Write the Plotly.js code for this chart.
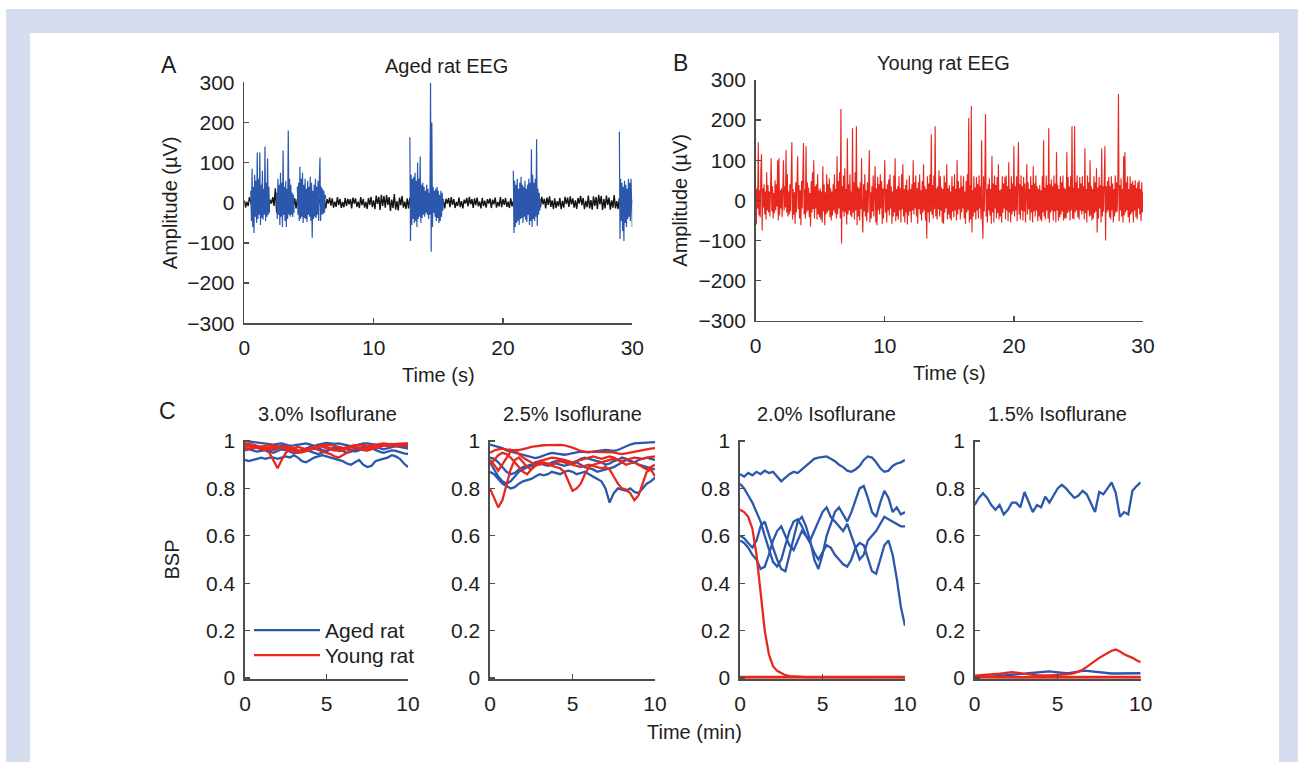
<!DOCTYPE html>
<html><head><meta charset="utf-8">
<script src="https://cdn.plot.ly/plotly-3.0.1.min.js"></script>
<style>html,body{margin:0;padding:0;background:#fff;}#chart{width:1298px;height:762px;}</style>
</head><body><div id="chart"></div>
<script>
// ---------- Panel A: aged rat EEG (µV), baseline sampled every 0.1 s ----------
const agedBaseline = [
6,-12,3,-8,14,2,-10,-4,11,-6,
12,-3,8,-14,5,-7,13,-11,2,-12,
8,-2,14,-8,36,-24,10,-5,7,-11,
13,-9,4,-13,8,1,-10,12,-7,11,
-14,9,-4,15,-9,3,-12,10,-8,13,
7,-13,2,-9,14,-8,6,-12,9,-3,
12,-8,4,-14,9,-2,13,-7,11,-12,
3,-10,14,-6,10,-13,2,-11,12,-8,
10,-4,9,-14,13,-2,11,-10,3,-13,
14,-6,10,-12,2,-15,12,-5,15,-11,
6,-16,18,-3,15,-18,20,-8,17,-12,
19,-5,14,-20,8,-13,22,-17,4,-19,
13,-6,17,-12,3,-15,11,-14,13,-4,
9,-12,2,-8,13,-10,5,-11,12,-3,
10,-13,4,-10,12,-2,14,-11,6,-12,
11,-3,13,-12,5,-14,10,-2,12,-11,
14,-5,9,-13,2,-8,13,-11,4,-14,
8,-2,12,-9,15,-4,9,-13,11,-6,
13,-9,3,-14,12,-8,5,-12,9,-2,
11,-13,8,-4,13,-12,2,-9,14,-11,
9,-5,12,-10,3,-13,11,-9,4,-10,
10,-2,13,-11,6,-12,12,-3,10,-13,
12,-10,2,-13,11,-6,14,-10,5,-11,
15,-4,10,-14,13,-5,16,-10,6,-15,
11,-13,4,-9,12,-16,5,-12,15,-3,
13,-10,16,-4,11,-12,6,-15,12,-2,
17,-6,12,-16,5,-11,18,-14,7,-17,
16,-8,14,-15,20,-4,17,-18,9,-14,
18,-5,13,-17,6,-12,19,-14,4,-16,
12,-14,3,-11,13,-6,9,-10,2,-13,
8];
// burst episodes (sampled every 0.05 s), start times in s
const burst1Start = 0.5;
const burst1 = [
30,-45,85,-60,40,-75,70,-35,55,-50,125,-40,60,-30,125,-55,45,-38,80,-42,
35,-30,140,-45,50,-35,110,-30,40,-25,null,null,null,null,null,null,null,null,null,null,
25,-40,60,-30,45,-55,75,-35,50,-60,130,-30,40,-45,55,-60,35,-40,180,-30,
60,-35,45,-30,25,-35,20,-25,null,null,null,null,40,-30,50,-45,90,-40,60,-35,
75,-50,45,-38,60,-40,35,-48,55,-30,40,-35,65,-45,50,-87,30,-40,45,-35,
60,-38,40,-30,55,-45,50,113,-45,40,-30,35,-28,30,-25,20,10];
const burst2Start = 12.8;
const burst2 = [
163,-95,70,-55,60,-40,65,-50,75,-45,55,-60,100,-40,60,-35,115,-50,45,-38,
50,-30,40,-35,30,-25,45,-30,35,-40,25,-30,298,-122,200,-60,40,-25,30,-35,
35,-45,40,-38,30,-50,20,-45,30,-35,25,-20,10];
const burst3Start = 20.8;
const burst3 = [
80,-75,55,-60,45,-50,60,-45,35,-55,50,-40,65,-38,45,-50,40,-35,55,-42,
35,-48,45,-30,60,-55,50,-45,133,-60,70,-40,50,-45,60,-35,158,-58,35,-30,
25,-20,10];
const burst4Start = 29.0;
const burst4 = [177,-90,60,-45,50,-70,40,-95,55,-50,45,-60,35,-40,60,-35,50,-45,60,-55,-60];

// ---------- Panel B: young rat EEG (µV), sampled every 0.05 s ----------
const youngEEG = [
35,-60,28,-20,145,-38,25,-42,75,115,-75,30,-18,40,-35,22,-48,70,-25,38,
-30,22,-40,60,105,-28,35,-45,18,-32,50,-25,40,-15,100,-50,105,-38,25,-20,
30,-42,50,100,-25,35,-18,125,-30,65,-40,22,-35,40,-28,70,145,-48,28,-36,
20,-58,45,-30,65,110,-22,38,-45,25,-62,48,-20,70,143,-35,28,-45,135,-30,
45,-25,32,-42,18,-65,48,-30,70,-22,100,-45,35,-20,40,-48,65,-35,25,-42,
30,-48,22,-55,85,-28,40,-62,20,-35,65,-30,40,-25,55,-42,30,-50,22,-38,
40,-25,65,-32,28,-45,110,-35,48,-20,70,-45,228,-108,35,-28,62,-40,80,-30,
28,-60,155,-35,40,-25,65,-38,22,-42,180,-30,45,-48,70,-25,185,-62,35,-40,
30,-50,45,-22,105,-35,-80,40,-28,65,-40,25,-52,45,-30,38,125,-55,20,-45,
35,-28,62,-40,25,85,-55,30,-62,58,-25,40,-35,65,-20,48,-58,30,-45,60,
100,-30,28,-55,40,-25,52,-38,65,-20,35,-58,22,-40,62,-30,105,-52,28,-40,
35,-48,60,-25,30,-55,65,-22,90,-40,28,-55,38,-30,52,-60,25,-38,62,-28,
28,-55,40,-25,100,-35,45,-20,62,-40,30,-58,45,-22,65,-35,25,-50,48,-30,
90,-25,35,-50,28,-95,60,-30,42,-55,65,-28,165,-35,38,-45,62,-22,185,-40,
30,-48,35,-22,75,-40,60,-25,32,-55,28,-58,62,-30,45,-20,90,-48,30,-35,
38,-45,22,-50,60,-28,35,-42,65,-25,28,-50,100,-35,48,-22,30,-48,62,-30,
35,-20,60,-45,22,-58,48,-30,65,-25,205,-55,38,-48,235,-80,25,-40,60,-30,
32,-48,58,-25,40,-45,62,-20,35,-48,150,-32,-95,60,-28,45,215,-40,28,-55,
40,-25,55,-38,28,-58,110,-30,42,-55,62,-20,38,-45,58,-32,90,-48,25,-40,
28,-55,60,-30,42,-20,58,-48,62,-25,35,-52,95,-30,28,-55,60,-35,42,-28,
135,-40,35,-25,60,-52,28,145,-35,40,-48,62,-25,35,-50,58,-28,42,-55,30,
90,-35,45,-22,28,-50,60,-30,38,-55,85,-28,42,-40,62,-25,35,-52,28,-40,
38,-48,25,-52,60,-30,150,-40,32,-48,62,-25,38,-45,180,-55,40,-30,52,-25,
35,-50,62,-28,42,-55,120,-25,38,-50,28,-42,60,-35,45,-28,62,-50,32,-45,
28,-45,120,-32,58,-28,35,-50,60,-25,185,-45,32,-48,185,-30,45,-25,62,-42,
30,-48,58,-25,42,-35,60,-28,35,-48,130,-32,28,-55,62,-25,45,-40,100,-38,
35,-50,28,-45,60,-32,45,-28,80,-80,32,-45,58,-20,38,-55,130,-40,35,-28,
42,135,-100,35,-30,48,-25,58,-42,35,-48,60,-25,42,-55,28,-40,62,-30,45,
-28,40,265,-52,38,-25,55,-40,28,-55,110,-38,120,-30,45,-25,60,-42,28,-55,
60,-35,42,-30,48,-55,38,-25,50,-42,30,-48,45,-20,50,-35,28,-52,45,-30,
20];

// ---------- Panel C: BSP, sampled every 0.25 min ----------
const iso30Aged = [
[0.92,0.915,0.92,0.925,0.93,0.925,0.93,0.93,0.925,0.93,0.935,0.93,0.94,0.93,0.915,0.91,0.92,0.93,0.935,0.94,0.935,0.93,0.925,0.92,0.915,0.905,0.9,0.91,0.92,0.9,0.89,0.895,0.915,0.92,0.925,0.93,0.94,0.935,0.925,0.905,0.89],
[1.0,0.998,0.995,0.993,0.99,0.99,0.988,0.985,0.988,0.99,0.985,0.98,0.982,0.985,0.988,0.99,0.985,0.98,0.985,0.99,0.992,0.99,0.988,0.99,0.985,0.98,0.978,0.98,0.985,0.99,0.99,0.988,0.985,0.98,0.982,0.985,0.988,0.985,0.98,0.978,0.975],
[0.97,0.965,0.96,0.955,0.958,0.962,0.955,0.95,0.958,0.965,0.962,0.955,0.948,0.952,0.96,0.962,0.955,0.95,0.945,0.95,0.958,0.965,0.97,0.965,0.958,0.95,0.955,0.962,0.968,0.972,0.975,0.97,0.962,0.955,0.95,0.955,0.96,0.958,0.952,0.948,0.945],
[0.96,0.965,0.97,0.975,0.97,0.965,0.96,0.968,0.975,0.98,0.975,0.968,0.96,0.955,0.962,0.97,0.975,0.978,0.97,0.962,0.958,0.965,0.972,0.975,0.97,0.965,0.96,0.955,0.96,0.968,0.975,0.978,0.975,0.97,0.965,0.97,0.975,0.978,0.975,0.97,0.968]];
const iso30Young = [
[0.985,0.98,0.975,0.97,0.965,0.96,0.95,0.92,0.885,0.92,0.95,0.965,0.97,0.975,0.97,0.965,0.97,0.975,0.978,0.975,0.97,0.965,0.96,0.965,0.97,0.975,0.978,0.98,0.982,0.98,0.978,0.98,0.982,0.985,0.985,0.983,0.985,0.986,0.985,0.985,0.985],
[0.975,0.978,0.98,0.975,0.97,0.968,0.972,0.975,0.978,0.975,0.97,0.962,0.955,0.95,0.952,0.958,0.965,0.968,0.962,0.955,0.95,0.945,0.935,0.93,0.94,0.952,0.962,0.97,0.968,0.965,0.97,0.975,0.978,0.98,0.982,0.98,0.982,0.985,0.984,0.985,0.986],
[0.99,0.988,0.985,0.98,0.975,0.97,0.965,0.962,0.968,0.975,0.978,0.975,0.968,0.96,0.955,0.958,0.965,0.972,0.978,0.98,0.975,0.968,0.962,0.958,0.96,0.968,0.972,0.975,0.97,0.962,0.96,0.965,0.972,0.978,0.98,0.982,0.98,0.978,0.98,0.982,0.98],
[0.965,0.968,0.972,0.975,0.978,0.98,0.982,0.98,0.975,0.97,0.965,0.96,0.955,0.952,0.958,0.965,0.97,0.975,0.978,0.982,0.985,0.983,0.98,0.975,0.97,0.972,0.978,0.982,0.985,0.983,0.98,0.982,0.985,0.988,0.99,0.988,0.985,0.988,0.99,0.99,0.99]];
const iso25Aged = [
[0.985,0.98,0.975,0.97,0.96,0.955,0.95,0.945,0.94,0.935,0.93,0.928,0.932,0.94,0.945,0.95,0.948,0.945,0.942,0.945,0.95,0.952,0.955,0.953,0.952,0.955,0.958,0.96,0.962,0.96,0.958,0.962,0.97,0.978,0.985,0.99,0.992,0.993,0.993,0.994,0.995],
[0.93,0.925,0.91,0.89,0.87,0.86,0.865,0.88,0.89,0.895,0.9,0.91,0.915,0.905,0.9,0.91,0.915,0.92,0.915,0.91,0.905,0.915,0.925,0.93,0.925,0.92,0.915,0.91,0.9,0.905,0.915,0.92,0.93,0.925,0.915,0.91,0.92,0.925,0.93,0.925,0.92],
[0.87,0.86,0.84,0.82,0.81,0.8,0.805,0.82,0.83,0.835,0.84,0.85,0.86,0.855,0.86,0.87,0.865,0.86,0.87,0.875,0.87,0.86,0.865,0.87,0.86,0.85,0.84,0.83,0.8,0.74,0.78,0.8,0.795,0.79,0.8,0.785,0.78,0.8,0.82,0.83,0.845],
[0.91,0.88,0.85,0.83,0.82,0.83,0.85,0.87,0.88,0.89,0.895,0.9,0.905,0.9,0.895,0.9,0.905,0.9,0.895,0.9,0.905,0.91,0.9,0.89,0.885,0.88,0.87,0.875,0.88,0.885,0.89,0.9,0.91,0.92,0.915,0.91,0.9,0.895,0.89,0.885,0.88]];
const iso25Young = [
[0.95,0.96,0.965,0.968,0.965,0.962,0.96,0.962,0.965,0.97,0.975,0.978,0.98,0.982,0.983,0.984,0.985,0.984,0.982,0.978,0.972,0.965,0.958,0.955,0.955,0.953,0.952,0.953,0.955,0.955,0.952,0.948,0.945,0.948,0.952,0.955,0.958,0.962,0.965,0.968,0.97],
[0.8,0.76,0.72,0.75,0.82,0.88,0.92,0.93,0.91,0.89,0.88,0.895,0.905,0.91,0.905,0.9,0.91,0.915,0.91,0.905,0.9,0.895,0.89,0.895,0.9,0.895,0.89,0.885,0.89,0.88,0.85,0.82,0.8,0.795,0.78,0.75,0.77,0.82,0.87,0.88,0.85],
[0.92,0.9,0.875,0.9,0.93,0.955,0.96,0.945,0.93,0.92,0.91,0.9,0.9,0.905,0.9,0.895,0.89,0.885,0.87,0.83,0.79,0.8,0.82,0.86,0.89,0.9,0.905,0.91,0.915,0.92,0.925,0.92,0.915,0.92,0.925,0.93,0.928,0.925,0.93,0.932,0.935],
[0.9,0.92,0.94,0.95,0.945,0.93,0.91,0.89,0.87,0.86,0.88,0.9,0.915,0.92,0.925,0.93,0.928,0.925,0.92,0.915,0.91,0.915,0.92,0.925,0.93,0.935,0.93,0.925,0.93,0.935,0.93,0.92,0.91,0.9,0.905,0.91,0.9,0.89,0.88,0.89,0.9]];
const iso20Aged = [
[0.86,0.85,0.865,0.855,0.87,0.86,0.875,0.865,0.87,0.85,0.83,0.845,0.86,0.87,0.865,0.88,0.895,0.91,0.925,0.93,0.932,0.935,0.925,0.915,0.9,0.89,0.875,0.87,0.88,0.895,0.92,0.935,0.93,0.91,0.885,0.87,0.875,0.895,0.905,0.91,0.92],
[0.82,0.8,0.77,0.74,0.7,0.66,0.6,0.54,0.49,0.47,0.5,0.56,0.62,0.66,0.67,0.64,0.6,0.57,0.53,0.5,0.53,0.56,0.55,0.52,0.5,0.48,0.47,0.5,0.55,0.57,0.56,0.5,0.45,0.44,0.5,0.56,0.58,0.52,0.42,0.3,0.22],
[0.6,0.59,0.57,0.55,0.58,0.64,0.66,0.6,0.55,0.5,0.46,0.45,0.52,0.6,0.66,0.68,0.64,0.58,0.5,0.46,0.52,0.6,0.65,0.7,0.72,0.69,0.66,0.7,0.75,0.8,0.81,0.76,0.7,0.68,0.74,0.79,0.76,0.7,0.72,0.69,0.7],
[0.58,0.57,0.55,0.52,0.5,0.46,0.47,0.52,0.58,0.62,0.64,0.6,0.56,0.54,0.58,0.62,0.6,0.58,0.62,0.66,0.7,0.72,0.68,0.66,0.64,0.62,0.65,0.6,0.55,0.5,0.52,0.58,0.6,0.62,0.65,0.68,0.67,0.66,0.65,0.64,0.64]];
const iso20Young = [
[0.71,0.7,0.68,0.63,0.52,0.36,0.2,0.1,0.05,0.03,0.02,0.012,0.008,0.006,0.005,0.005,0.004,0.004,0.004,0.004,0.004,0.004,0.004,0.004,0.004,0.004,0.004,0.004,0.004,0.004,0.004,0.004,0.004,0.004,0.004,0.004,0.004,0.004,0.004,0.004,0.004]];
const iso15Aged = [
[0.73,0.76,0.78,0.76,0.73,0.71,0.73,0.69,0.71,0.74,0.74,0.72,0.785,0.74,0.7,0.73,0.72,0.765,0.74,0.77,0.8,0.815,0.8,0.78,0.76,0.77,0.79,0.775,0.74,0.7,0.785,0.775,0.8,0.825,0.78,0.68,0.7,0.69,0.79,0.81,0.825],
[0.004,0.004,0.005,0.006,0.007,0.008,0.009,0.01,0.011,0.012,0.014,0.016,0.018,0.02,0.022,0.024,0.026,0.028,0.028,0.026,0.023,0.021,0.02,0.022,0.025,0.028,0.03,0.03,0.028,0.025,0.022,0.02,0.019,0.019,0.019,0.019,0.02,0.02,0.02,0.02,0.02]];
const iso15Young = [
[0.01,0.011,0.012,0.013,0.014,0.016,0.018,0.02,0.023,0.025,0.023,0.02,0.017,0.015,0.013,0.012,0.011,0.011,0.011,0.012,0.012,0.013,0.015,0.017,0.02,0.027,0.035,0.047,0.06,0.072,0.085,0.095,0.105,0.115,0.12,0.112,0.1,0.093,0.085,0.075,0.067]];
// young rats that stayed fully suppressed (BSP ≈ 0), sampled every 2.5 min
const suppressedYoungA = [0.004,0.003,0.004,0.003,0.004];
const suppressedYoungB = [0.003,0.004,0.003,0.004,0.003];

const panelLetters = ['A','B','C'];
const eegTitles = ['Aged rat EEG','Young rat EEG'];
const isoTitles = ['3.0% Isoflurane','2.5% Isoflurane','2.0% Isoflurane','1.5% Isoflurane'];
const legendNames = ['Aged rat','Young rat'];
const eegYTicks = [-300,-200,-100,0,100,200,300];
const eegXTicks = [0,10,20,30];
const bspYTicks = [0,0.2,0.4,0.6,0.8,1];
const bspXTicks = [0,5,10];

// ---------- styling ----------
const BLUE = '#2b57ad', RED = '#e8281f', BLACK = '#141414';
const AX = '#4d4d4d', TXT = '#1e1e1e', FONT = 'Liberation Sans, Arial, Helvetica, sans-serif';
const W = 1298, H = 762, TICK = 21, TITLE = 20;

const traces = [];
function seq(y, x0, dx, xa, ya, color, width, extra) {
  traces.push(Object.assign({type:'scatter', mode:'lines', y:y, x0:x0, dx:dx, xaxis:xa, yaxis:ya,
    line:{color:color, width:width}, showlegend:false, hoverinfo:'skip', connectgaps:false}, extra||{}));
}
// A
seq(agedBaseline, 0, 0.1, 'x', 'y', BLACK, 1.4);
seq(burst1, burst1Start, 0.05, 'x', 'y', BLUE, 1.2);
seq(burst2, burst2Start, 0.05, 'x', 'y', BLUE, 1.2);
seq(burst3, burst3Start, 0.05, 'x', 'y', BLUE, 1.2);
seq(burst4, burst4Start, 0.05, 'x', 'y', BLUE, 1.2);
// B
seq(youngEEG, 0, 0.05, 'x2', 'y2', RED, 1.15);
// C
const groups = [[iso30Aged, iso30Young], [iso25Aged, iso25Young], [iso20Aged, iso20Young], [iso15Aged, iso15Young]];
groups.forEach((g, i) => {
  const xa = 'x' + (i + 3), ya = 'y' + (i + 3);
  g[0].forEach((arr, k) => seq(arr, 0, 0.25, xa, ya, BLUE, 2.3,
    (i === 0 && k === 0) ? {showlegend:true, name:legendNames[0], legend:'legend'} : {}));
  if (i >= 2) { seq(suppressedYoungA, 0, 2.5, xa, ya, RED, 2.5); seq(suppressedYoungB, 0, 2.5, xa, ya, RED, 2.5); }
  g[1].forEach((arr, k) => seq(arr, 0, 0.25, xa, ya, RED, 2.3,
    (i === 0 && k === 0) ? {showlegend:true, name:legendNames[1], legend:'legend2'} : {}));
});

function ax(extra) {
  return Object.assign({showline:true, linecolor:AX, linewidth:1.6, ticks:'inside', ticklen:5, tickwidth:1.3,
    tickcolor:AX, showgrid:false, zeroline:false, mirror:false, fixedrange:true,
    tickfont:{size:TICK, color:TXT, family:FONT}}, extra);
}
const dx = (a, b) => [a / W, b / W];
const dy = (top, bottom) => [1 - bottom / H, 1 - top / H];
const ttl = (t, s) => ({text:t, font:{size:TITLE, color:TXT, family:FONT}, standoff:s});
const leg = (ytop) => ({x:249 / W, xanchor:'left', y:1 - ytop / H, yanchor:'top', bgcolor:'rgba(0,0,0,0)',
  font:{size:21, color:TXT, family:FONT}, itemwidth:66, borderwidth:0});

const cTop = 441 - 0.006 * 237, cBot = 678 + 0.006 * 237;
const layout = {
  width:W, height:H, autosize:false, margin:{l:0, r:0, t:0, b:0},
  paper_bgcolor:'#ffffff', plot_bgcolor:'rgba(0,0,0,0)',
  font:{family:FONT, color:TXT, size:TITLE},
  showlegend:true,
  legend: leg(610),
  legend2: leg(635),
  xaxis: ax({domain:dx(244.3, 632.3), range:[0, 30], tickvals:eegXTicks, anchor:'y', title:ttl('Time (s)', 10), ticklabelstandoff:5}),
  yaxis: ax({domain:dy(82.3, 323.3), range:[-300, 300], tickvals:eegYTicks, anchor:'x', title:ttl('Amplitude (µV)', 4), ticklabelstandoff:4}),
  xaxis2: ax({domain:dx(755.7, 1143), range:[0, 30], tickvals:eegXTicks, anchor:'y2', title:ttl('Time (s)', 10), ticklabelstandoff:5}),
  yaxis2: ax({domain:dy(80, 320.7), range:[-300, 300], tickvals:eegYTicks, anchor:'x2', title:ttl('Amplitude (µV)', 5), ticklabelstandoff:4}),
  xaxis3: ax({domain:dx(245, 408), range:[0, 10], tickvals:bspXTicks, anchor:'y3', ticklabelstandoff:5}),
  yaxis3: ax({domain:dy(cTop, cBot), range:[-0.006, 1.006], tickvals:bspYTicks, anchor:'x3', title:ttl('BSP', 21), ticklabelstandoff:4}),
  xaxis4: ax({domain:dx(490, 655), range:[0, 10], tickvals:bspXTicks, anchor:'y4', ticklabelstandoff:5}),
  yaxis4: ax({domain:dy(cTop, cBot), range:[-0.006, 1.006], tickvals:bspYTicks, anchor:'x4', ticklabelstandoff:4}),
  xaxis5: ax({domain:dx(740, 905), range:[0, 10], tickvals:bspXTicks, anchor:'y5', ticklabelstandoff:5}),
  yaxis5: ax({domain:dy(cTop, cBot), range:[-0.006, 1.006], tickvals:bspYTicks, anchor:'x5', ticklabelstandoff:4}),
  xaxis6: ax({domain:dx(974.7, 1140.7), range:[0, 10], tickvals:bspXTicks, anchor:'y6', ticklabelstandoff:5}),
  yaxis6: ax({domain:dy(cTop, cBot), range:[-0.006, 1.006], tickvals:bspYTicks, anchor:'x6', ticklabelstandoff:4}),
  shapes:[
    {type:'rect', xref:'paper', yref:'paper', x0:6 / W, x1:1, y0:0, y1:1 - 9 / H, fillcolor:'#d5ddef', line:{width:0}, layer:'below'},
    {type:'rect', xref:'paper', yref:'paper', x0:30 / W, x1:1279 / W, y0:0, y1:1 - 33 / H, fillcolor:'#ffffff', line:{width:0}, layer:'below'}
  ],
  annotations:[]
};
function note(text, xpx, ypx, size) {
  layout.annotations.push({text:text, xref:'paper', yref:'paper', x:xpx / W, y:1 - ypx / H,
    xanchor:'center', yanchor:'middle', showarrow:false, font:{size:size, color:TXT, family:FONT}});
}
note(panelLetters[0], 169, 65, 23);
note(panelLetters[1], 680, 63, 23);
note(panelLetters[2], 167, 411, 23);
note(eegTitles[0], 446, 66, TITLE);
note(eegTitles[1], 943, 63, TITLE);
note(isoTitles[0], 327, 414, TITLE);
note(isoTitles[1], 572, 414, TITLE);
note(isoTitles[2], 826, 414, TITLE);
note(isoTitles[3], 1057, 414, TITLE);
note('Time (min)', 695, 732, TITLE);

Plotly.newPlot('chart', traces, layout, {displayModeBar:false, staticPlot:true});
</script></body></html>
